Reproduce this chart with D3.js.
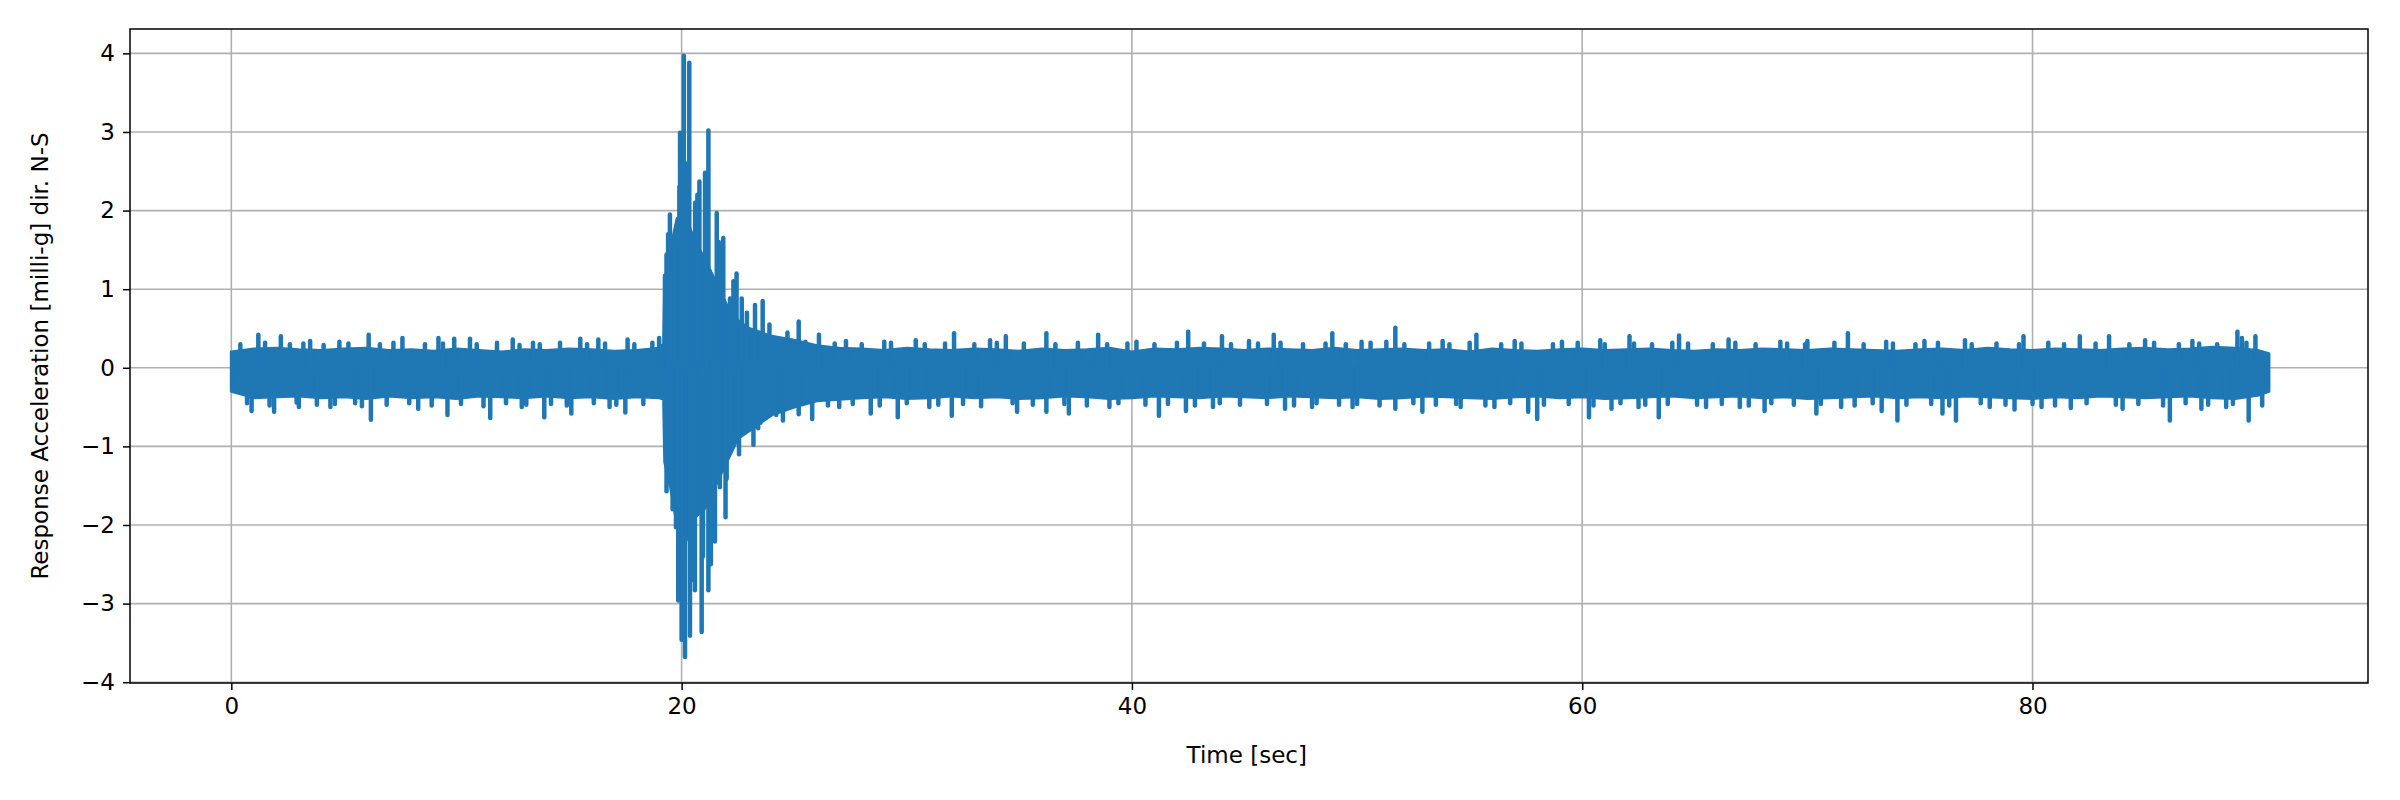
<!DOCTYPE html>
<html>
<head>
<meta charset="utf-8">
<script src="https://cdn.jsdelivr.net/npm/d3@7"></script>
<style>
  body { margin: 0; background: #fff; }
  text { font-family: "DejaVu Sans", sans-serif; }
</style>
</head>
<body>
<div id="chart"></div>
<script>
// Solid band of the signal (time in sec, milli-g)
const envTime = [0,1,2,3,4,5,6,7,8,9,10,11,12,13,14,15,16,17,18,19,19.2,19.25,19.5,19.8,20.2,20.6,21.0,21.5,22.0,22.5,23.0,24.0,25.0,26,27,28,29,30,31,32,33,34,35,36,37,38,39,40,41,42,43,44,45,46,47,48,49,50,51,52,53,54,55,56,57,58,59,60,61,62,63,64,65,66,67,68,69,70,71,72,73,74,75,76,77,78,79,80,81,82,83,84,85,86,87,88,89,90,90.5];
const envHigh = [0.2,0.24,0.25,0.23,0.22,0.24,0.25,0.22,0.23,0.21,0.24,0.22,0.2,0.23,0.22,0.24,0.23,0.21,0.22,0.25,0.3,1.1,1.5,1.9,1.9,1.6,1.4,1.1,0.8,0.6,0.5,0.4,0.35,0.28,0.25,0.24,0.22,0.25,0.23,0.22,0.24,0.23,0.21,0.24,0.22,0.23,0.25,0.2,0.24,0.23,0.25,0.24,0.22,0.24,0.23,0.22,0.25,0.22,0.23,0.24,0.22,0.23,0.2,0.24,0.22,0.21,0.23,0.24,0.22,0.23,0.24,0.22,0.21,0.23,0.22,0.24,0.23,0.22,0.24,0.23,0.22,0.21,0.23,0.24,0.22,0.25,0.23,0.22,0.24,0.23,0.22,0.24,0.25,0.23,0.24,0.26,0.25,0.22,0.18];
const envLow = [-0.3,-0.38,-0.37,-0.36,-0.38,-0.37,-0.39,-0.36,-0.38,-0.37,-0.39,-0.36,-0.37,-0.38,-0.36,-0.38,-0.37,-0.39,-0.37,-0.38,-0.4,-1.2,-1.5,-2.0,-2.2,-1.9,-1.8,-1.5,-1.2,-0.9,-0.8,-0.6,-0.5,-0.42,-0.4,-0.38,-0.37,-0.39,-0.38,-0.36,-0.38,-0.37,-0.39,-0.38,-0.36,-0.37,-0.39,-0.38,-0.36,-0.37,-0.38,-0.36,-0.37,-0.38,-0.36,-0.37,-0.38,-0.37,-0.39,-0.38,-0.36,-0.37,-0.38,-0.39,-0.37,-0.36,-0.38,-0.37,-0.39,-0.38,-0.37,-0.36,-0.38,-0.37,-0.36,-0.38,-0.37,-0.39,-0.38,-0.37,-0.36,-0.38,-0.37,-0.38,-0.36,-0.37,-0.38,-0.39,-0.37,-0.38,-0.36,-0.37,-0.38,-0.37,-0.36,-0.38,-0.39,-0.35,-0.3];

// Individual peaks sticking out of the band
const spikeTime = [1.2,2.2,3.5,4.8,6.1,7.6,9.2,9.9,10.6,12.5,13.4,15.5,16.3,17.6,19.0,
  0.9,1.9,3.0,4.4,6.2,8.3,9.6,11.5,12.9,13.9,15.1,16.8,17.5,
  19.26,19.33,19.48,19.93,20.1,20.34,20.6,20.79,21.04,21.19,21.56,21.85,22.15,22.44,22.67,23.26,23.6,24.7,25.2,
  19.33,19.75,19.85,20.0,20.15,20.37,20.59,20.89,21.19,21.48,21.7,22.0,22.22,23.19,23.4,24.5,25.2,
  26.1,27.3,29.0,30.4,32.1,33.7,34.4,36.2,38.5,40.2,42.5,44.0,
  25.8,27.0,28.4,29.6,31.0,32.0,34.9,36.2,37.2,39.0,41.2,42.4,43.6,
  45.2,46.3,48.9,50.2,51.3,51.7,53.8,55.3,57.0,59.1,60.8,62.1,64.3,
  46.8,48.0,49.8,51.7,52.9,54.6,56.1,57.6,58.0,60.3,61.3,62.5,63.4,
  66.5,68.8,70.0,71.8,73.5,75.2,77.0,79.6,82.1,83.4,85.0,87.1,89.1,89.3,89.9,
  65.5,67.0,68.1,70.4,71.5,73.3,74.0,76.0,76.6,78.1,79.2,80.4,81.7,84.0,86.1,87.5,88.6,89.6];
const spikeValue = [0.42,0.4,0.34,0.33,0.42,0.38,0.38,0.37,0.37,0.36,0.32,0.37,0.36,0.36,0.38,
  -0.55,-0.56,-0.5,-0.5,-0.66,-0.52,-0.6,-0.64,-0.5,-0.63,-0.58,-0.5,-0.57,
  1.17,1.44,1.95,2.99,3.97,3.88,2.1,2.37,2.48,3.02,1.97,1.65,0.88,1.2,0.88,0.8,0.85,0.45,0.59,
  -1.57,-2.03,-2.96,-3.46,-3.68,-3.41,-2.83,-3.36,-2.83,-2.21,-1.52,-1.41,-0.99,-0.98,-0.77,-0.67,-0.59,
  0.42,0.34,0.33,0.35,0.44,0.35,0.4,0.44,0.42,0.33,0.46,0.4,
  -0.65,-0.5,-0.58,-0.63,-0.5,-0.61,-0.56,-0.56,-0.58,-0.5,-0.61,-0.55,-0.5,
  0.34,0.42,0.44,0.33,0.33,0.51,0.34,0.42,0.34,0.33,0.35,0.4,0.41,
  -0.52,-0.5,-0.5,-0.52,-0.56,-0.5,-0.5,-0.56,-0.65,-0.63,-0.52,-0.5,-0.63,
  0.36,0.33,0.34,0.44,0.33,0.34,0.35,0.4,0.4,0.4,0.35,0.34,0.46,0.38,0.4,
  -0.5,-0.5,-0.55,-0.58,-0.5,-0.55,-0.67,-0.58,-0.67,-0.5,-0.53,-0.5,-0.51,-0.52,-0.67,-0.52,-0.5,-0.67];

// Smaller bumps along the band edges and inside the burst
const bumpTime = [0.4,0.7,1.5,1.7,2.6,2.9,3.2,3.8,4.1,4.6,5.2,5.5,5.8,6.6,6.9,7.2,7.9,8.6,8.9,9.4,10.2,10.9,11.2,11.8,12.2,12.8,13.1,13.7,14.2,14.6,14.9,15.8,16.1,16.6,17.1,17.9,18.3,18.7,
  19.4,19.6,19.9,20.05,20.25,20.45,20.7,20.95,21.1,21.3,21.65,21.95,22.3,22.55,22.9,23.5,23.9,24.2,
  25.5,26.5,26.8,27.6,28.0,28.8,29.3,30.0,30.8,31.4,31.7,32.5,33.0,33.3,34.0,34.7,35.2,35.6,36.6,37.0,37.6,38.0,38.9,39.4,39.8,40.6,41.0,41.6,42.0,42.8,43.2,43.9,44.4,
  44.8,45.6,46.0,46.6,47.2,47.6,48.2,48.6,49.2,49.5,50.0,50.6,51.0,52.1,52.5,53.2,53.5,54.1,54.4,55.0,55.7,56.4,56.8,57.3,58.3,58.7,59.4,59.8,60.5,61.0,61.7,62.3,62.8,63.1,63.8,64.0,
  64.7,65.1,65.8,66.2,66.8,67.4,67.7,68.4,69.1,69.4,69.9,70.6,71.2,72.1,72.5,72.9,73.8,74.4,74.8,75.5,75.8,76.3,77.3,77.7,78.4,78.8,79.4,80.0,80.7,81.0,81.4,82.4,82.8,83.7,84.3,84.7,85.4,85.8,86.5,86.8,87.4,87.8,88.2,88.9,89.5,90.2];
const bumpValue = [0.3,-0.45,0.32,-0.48,0.3,-0.44,0.31,-0.47,0.29,-0.46,0.31,-0.45,-0.49,0.3,-0.47,0.32,-0.45,0.3,-0.48,0.31,-0.46,0.3,-0.49,0.32,-0.45,0.29,-0.47,0.3,-0.46,0.32,-0.48,0.3,-0.45,0.31,-0.47,0.3,-0.46,0.32,
  1.7,-1.8,2.3,-2.6,2.6,-2.7,2.2,-2.4,1.9,-2.5,1.6,-1.9,1.1,-1.1,0.7,-0.7,0.55,-0.6,
  0.33,-0.48,0.31,-0.46,0.3,-0.48,0.32,-0.45,0.3,-0.47,0.31,-0.46,0.3,-0.49,0.32,-0.45,0.31,-0.47,0.3,-0.46,0.32,-0.48,0.3,-0.45,0.31,-0.47,0.3,-0.46,0.32,-0.48,0.31,-0.45,0.3,
  -0.47,0.31,-0.46,0.32,-0.48,0.3,-0.45,0.31,-0.47,0.3,-0.46,0.32,-0.48,0.3,-0.45,0.31,-0.47,0.3,-0.46,0.32,-0.48,0.3,-0.45,0.31,-0.47,0.3,-0.46,0.32,-0.48,0.3,-0.45,0.31,-0.47,0.3,-0.46,0.32,
  0.31,-0.47,0.3,-0.46,0.32,-0.48,0.3,-0.45,0.31,-0.47,0.3,-0.46,0.32,-0.48,0.3,-0.45,0.31,-0.47,0.3,-0.46,0.32,-0.48,0.3,-0.45,0.31,-0.47,0.3,-0.46,0.32,-0.48,0.3,-0.45,0.31,-0.47,0.3,-0.46,0.32,-0.48,0.3,-0.45,0.31,-0.47,0.3,-0.46,0.32,-0.48];

const xTicks = [0, 20, 40, 60, 80];
const yTicks = [-4, -3, -2, -1, 0, 1, 2, 3, 4];

const W = 2400, H = 800;
const margin = { top: 29, right: 32, bottom: 117, left: 130 };
const iw = W - margin.left - margin.right, ih = H - margin.top - margin.bottom;
const blue = "#1f77b4";

const svg = d3.select("#chart").append("svg").attr("width", W).attr("height", H);
const g = svg.append("g").attr("transform", `translate(${margin.left},${margin.top})`);

const x = d3.scaleLinear().domain([-4.5, 94.9]).range([0, iw]);
const y = d3.scaleLinear().domain([-4.01, 4.31]).range([ih, 0]);

// grid
g.append("g").selectAll("line").data(xTicks).join("line")
  .attr("x1", d => x(d)).attr("x2", d => x(d)).attr("y1", 0).attr("y2", ih)
  .attr("stroke", "#b0b0b0").attr("stroke-width", 1.6);
g.append("g").selectAll("line").data(yTicks).join("line")
  .attr("y1", d => y(d)).attr("y2", d => y(d)).attr("x1", 0).attr("x2", iw)
  .attr("stroke", "#b0b0b0").attr("stroke-width", 1.6);

// signal
const band = envTime.map((t, i) => ({ t, hi: envHigh[i], lo: envLow[i] }));
g.append("path").datum(band)
  .attr("d", d3.area().x(d => x(d.t)).y0(d => y(d.lo)).y1(d => y(d.hi)))
  .attr("fill", blue).attr("stroke", blue).attr("stroke-width", 3).attr("stroke-linejoin", "round");

const peaks = spikeTime.map((t, i) => [t, spikeValue[i]])
  .concat(bumpTime.map((t, i) => [t, bumpValue[i]]));
g.append("g").selectAll("line").data(peaks).join("line")
  .attr("x1", d => x(d[0])).attr("x2", d => x(d[0]))
  .attr("y1", y(0)).attr("y2", d => y(d[1]))
  .attr("stroke", blue).attr("stroke-width", 4.5).attr("stroke-linecap", "round");

// axes
const xAxis = g.append("g").attr("transform", `translate(0,${ih})`)
  .call(d3.axisBottom(x).tickValues(xTicks).tickSize(7).tickPadding(8));
const yAxis = g.append("g").call(d3.axisLeft(y).tickValues(yTicks).tickSize(7).tickPadding(8)
  .tickFormat(d => d < 0 ? "\u2212" + Math.abs(d) : d));
[xAxis, yAxis].forEach(a => {
  a.select(".domain").remove();
  a.selectAll("line").attr("stroke", "#000").attr("stroke-width", 1.5);
  a.selectAll("text").attr("font-size", 23).attr("fill", "#000");
});

g.append("rect").attr("width", iw).attr("height", ih)
  .attr("fill", "none").attr("stroke", "#000").attr("stroke-width", 1.5);

svg.append("text").attr("x", margin.left + x(45.1)).attr("y", 763)
  .attr("text-anchor", "middle").attr("font-size", 23).text("Time [sec]");
svg.append("text").attr("transform", `translate(48,${margin.top + ih / 2}) rotate(-90)`)
  .attr("text-anchor", "middle").attr("font-size", 23).text("Response Acceleration [milli-g] dir. N-S");
</script>
</body>
</html>
